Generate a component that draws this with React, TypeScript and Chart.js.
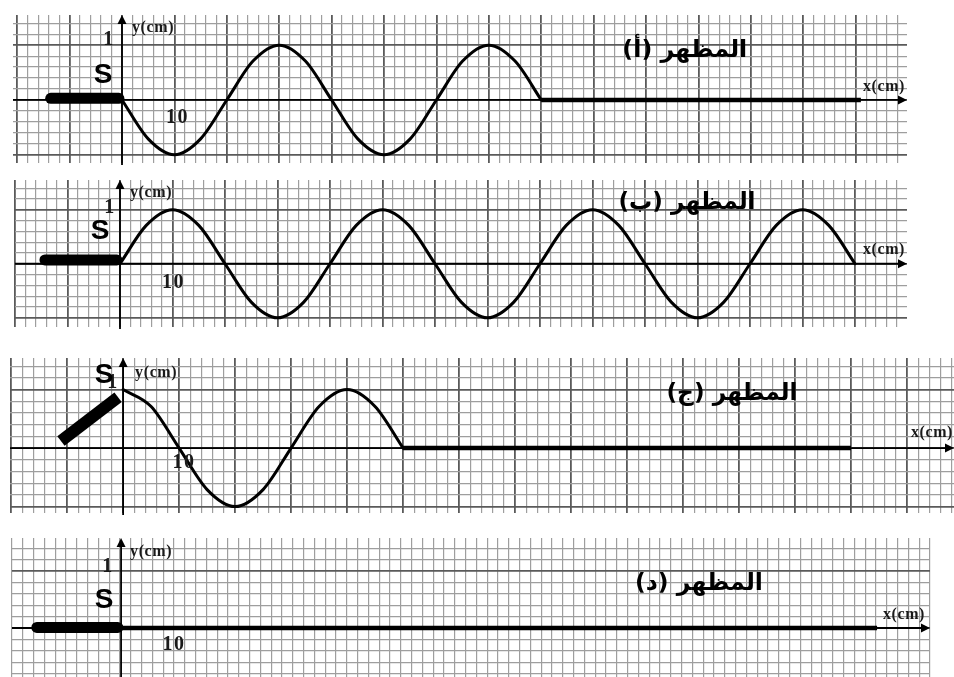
import React, { useEffect, useRef } from "react";
import { Chart, registerables } from "chart.js";

Chart.register(...registerables);

// ---------------- data (cm) ----------------
// Panel (أ): wave leaves S going down, two wavelengths, then rest
const waveAX = [0, 5, 10, 15, 20, 25, 30, 35, 40, 45, 50, 55, 60, 65, 70, 75, 80];
const waveAY = [0, -0.71, -1, -0.71, 0, 0.71, 1, 0.71, 0, -0.71, -1, -0.71, 0, 0.71, 1, 0.71, 0];
const restAX = [80, 141];
const restAY = [0, 0];
const sourceAX = [-13.6, -0.6];
const sourceAY = [0.03, 0.03];

// Panel (ب): wave going up, three and a half wavelengths
const waveBX = [0, 5, 10, 15, 20, 25, 30, 35, 40, 45, 50, 55, 60, 65, 70, 75, 80, 85, 90, 95, 100, 105, 110, 115, 120, 125, 130, 135, 140];
const waveBY = [0, 0.71, 1, 0.71, 0, -0.71, -1, -0.71, 0, 0.71, 1, 0.71, 0, -0.71, -1, -0.71, 0, 0.71, 1, 0.71, 0, -0.71, -1, -0.71, 0, 0.71, 1, 0.71, 0];
const sourceBX = [-14.3, -0.6];
const sourceBY = [0.07, 0.07];

// Panel (ج): source tilted up, wave starts at crest
const waveCX = [0, 5, 10, 15, 20, 25, 30, 35, 40, 45, 50];
const waveCY = [1, 0.71, 0, -0.71, -1, -0.71, 0, 0.71, 1, 0.71, 0];
const restCX = [50, 130];
const restCY = [0, 0];
const sourceCX = [-11.1, -0.9];
const sourceCY = [0.12, 0.87];

// Panel (د): rope at rest
const restDX = [0, 140];
const restDY = [0, 0];
const sourceDX = [-15.6, -0.6];
const sourceDY = [0.01, 0.01];

const titles = ["المظهر (أ)", "المظهر (ب)", "المظهر (ج)", "المظهر (د)"];
const yTickLabel = "1";
const xTickLabel = "10";
const yAxisTitle = "y(cm)";
const xAxisTitle = "x(cm)";
const sourceLabel = "S";

// ---------------- layout ----------------
type Series = { x: number[]; y: number[]; width: number; cap: "round" | "butt" };
type Lab = { dx: number; dy: number };
type PanelCfg = {
  top: number;
  height: number;
  pad: { left: number; right: number; top: number; bottom: number };
  xMin: number;
  xMax: number;
  yMin: number;
  yMax: number;
  series: Series[];
  title: string;
  titleAt: [number, number];
  titleW: number;
  yTitle: Lab;
  one: Lab;
  s: Lab;
  ten: Lab;
  xTitle: Lab;
  sSize: number;
};

const panels: PanelCfg[] = [
  {
    top: 0, height: 170,
    pad: { left: 13, right: 47, top: 15, bottom: 7 },
    xMin: -20.8, xMax: 149.8, yMin: -1.15, yMax: 1.55,
    series: [
      { x: sourceAX, y: sourceAY, width: 11, cap: "round" },
      { x: waveAX, y: waveAY, width: 3, cap: "round" },
      { x: restAX, y: restAY, width: 4.5, cap: "butt" },
    ],
    title: titles[0], titleAt: [107.4, 0.9], titleW: 125,
    yTitle: { dx: 10, dy: 13 }, one: { dx: -13, dy: -5 }, s: { dx: -19, dy: -25 },
    ten: { dx: 2, dy: 18 }, xTitle: { dx: -2, dy: -13 }, sSize: 28,
  },
  {
    top: 170, height: 165,
    pad: { left: 15, right: 47, top: 10, bottom: 8 },
    xMin: -20, xMax: 149.9, yMin: -1.17, yMax: 1.55,
    series: [
      { x: sourceBX, y: sourceBY, width: 11, cap: "round" },
      { x: waveBX, y: waveBY, width: 3, cap: "round" },
    ],
    title: titles[1], titleAt: [108, 1.13], titleW: 137,
    yTitle: { dx: 10, dy: 13 }, one: { dx: -10, dy: -2 }, s: { dx: -20, dy: -32 },
    ten: { dx: 0, dy: 19 }, xTitle: { dx: -2, dy: -14 }, sSize: 28,
  },
  {
    top: 335, height: 185,
    pad: { left: 10, right: 0, top: 23, bottom: 7 },
    xMin: -20.2, xMax: 148.4, yMin: -1.11, yMax: 1.54,
    series: [
      { x: sourceCX, y: sourceCY, width: 12, cap: "butt" },
      { x: waveCX, y: waveCY, width: 3, cap: "round" },
      { x: restCX, y: restCY, width: 4.5, cap: "butt" },
    ],
    title: titles[2], titleAt: [108.75, 0.93], titleW: 131,
    yTitle: { dx: 12, dy: 15 }, one: { dx: -10, dy: -7 }, s: { dx: -19, dy: -73 },
    ten: { dx: 4, dy: 15 }, xTitle: { dx: -1, dy: -15 }, sSize: 28,
  },
  {
    top: 520, height: 157,
    pad: { left: 12, right: 24, top: 18, bottom: 0 },
    xMin: -20.2, xMax: 149.8, yMin: -0.86, yMax: 1.58,
    series: [
      { x: sourceDX, y: sourceDY, width: 11, cap: "round" },
      { x: restDX, y: restDY, width: 4.5, cap: "butt" },
    ],
    title: titles[3], titleAt: [107, 0.78], titleW: 128,
    yTitle: { dx: 9, dy: 14 }, one: { dx: -13, dy: -4 }, s: { dx: -17, dy: -28 },
    ten: { dx: -2, dy: 17 }, xTitle: { dx: -5, dy: -13 }, sSize: 28,
  },
];

const SERIF = '"Liberation Serif", "Times New Roman", serif';
const SANS = '"Liberation Sans", Arial, sans-serif';
const MINOR = "#9e9e9e";
const MAJOR = "#5a5a5a";

function isMajorX(v: number) {
  return Math.abs(v / 10 - Math.round(v / 10)) < 1e-6;
}
function isMajorY(v: number) {
  return Math.abs(v - Math.round(v)) < 1e-6;
}

function overlay(p: PanelCfg) {
  return {
    id: "overlay",
    beforeDatasetsDraw(chart: any) {
      const { ctx, chartArea: a, scales } = chart;
      const x0 = scales.x.getPixelForValue(0);
      const y0 = scales.y.getPixelForValue(0);
      ctx.save();
      ctx.strokeStyle = "#000";
      ctx.fillStyle = "#000";
      ctx.lineWidth = 1.8;
      ctx.beginPath();
      ctx.moveTo(a.left, y0);
      ctx.lineTo(a.right - 5, y0);
      ctx.stroke();
      ctx.beginPath();
      ctx.moveTo(a.right, y0);
      ctx.lineTo(a.right - 9, y0 - 4.5);
      ctx.lineTo(a.right - 9, y0 + 4.5);
      ctx.closePath();
      ctx.fill();
      ctx.beginPath();
      ctx.moveTo(x0, a.bottom + 2);
      ctx.lineTo(x0, a.top + 5);
      ctx.stroke();
      ctx.beginPath();
      ctx.moveTo(x0, a.top);
      ctx.lineTo(x0 - 4.5, a.top + 9);
      ctx.lineTo(x0 + 4.5, a.top + 9);
      ctx.closePath();
      ctx.fill();
      ctx.restore();
    },
    afterDatasetsDraw(chart: any) {
      const { ctx, chartArea: a, scales } = chart;
      const xs = scales.x;
      const ys = scales.y;
      const x0 = xs.getPixelForValue(0);
      const y0 = ys.getPixelForValue(0);
      const y1 = ys.getPixelForValue(1);
      const x10 = xs.getPixelForValue(10);
      ctx.save();
      ctx.fillStyle = "#1a1a1a";
      ctx.textBaseline = "middle";

      ctx.font = `bold 16px ${SERIF}`;
      (ctx as any).letterSpacing = "0.6px";
      ctx.textAlign = "left";
      ctx.fillText(yAxisTitle, x0 + p.yTitle.dx, a.top + p.yTitle.dy);
      ctx.textAlign = "right";
      ctx.fillText(xAxisTitle, a.right + p.xTitle.dx, y0 + p.xTitle.dy);

      ctx.font = `bold 20px ${SERIF}`;
      (ctx as any).letterSpacing = "1.5px";
      ctx.textAlign = "center";
      ctx.fillText(yTickLabel, x0 + p.one.dx, y1 + p.one.dy);
      ctx.fillText(xTickLabel, x10 + p.ten.dx + 1, y0 + p.ten.dy);
      (ctx as any).letterSpacing = "0px";

      ctx.fillStyle = "#000";
      ctx.font = `bold ${p.sSize}px ${SANS}`;
      ctx.fillText(sourceLabel, x0 + p.s.dx, y0 + p.s.dy);

      ctx.direction = "rtl";
      ctx.textAlign = "center";
      const base = 20;
      ctx.font = `bold ${base}px "DejaVu Sans", sans-serif`;
      const w = ctx.measureText(p.title).width || p.titleW;
      const size = Math.min(30, Math.max(14, (base * p.titleW) / w));
      ctx.font = `bold ${size.toFixed(1)}px "DejaVu Sans", sans-serif`;
      ctx.fillText(p.title, xs.getPixelForValue(p.titleAt[0]), ys.getPixelForValue(p.titleAt[1]));
      ctx.restore();
    },
  };
}

function Panel({ p }: { p: PanelCfg }) {
  const ref = useRef<HTMLCanvasElement | null>(null);
  useEffect(() => {
    if (!ref.current) return;
    const chart = new Chart(ref.current, {
      type: "scatter",
      data: {
        datasets: p.series.map((s) => ({
          data: s.x.map((x, i) => ({ x, y: s.y[i] })),
          showLine: true,
          borderColor: "#000",
          backgroundColor: "#000",
          borderWidth: s.width,
          borderCapStyle: s.cap,
          borderJoinStyle: "round",
          pointRadius: 0,
          pointHoverRadius: 0,
          cubicInterpolationMode: "monotone",
          clip: false,
        })) as any,
      },
      options: {
        responsive: false,
        maintainAspectRatio: false,
        animation: false,
        events: [],
        layout: { padding: p.pad },
        plugins: { legend: { display: false }, tooltip: { enabled: false } },
        scales: {
          x: {
            type: "linear",
            min: p.xMin,
            max: p.xMax,
            border: { display: false },
            ticks: { display: false, stepSize: 2, includeBounds: false, autoSkip: false },
            grid: {
              drawTicks: false,
              color: (c: any) => (isMajorX(c.tick.value) ? MAJOR : MINOR),
              lineWidth: (c: any) => (isMajorX(c.tick.value) ? 1.8 : 1.2),
            },
          },
          y: {
            type: "linear",
            min: p.yMin,
            max: p.yMax,
            border: { display: false },
            ticks: { display: false, stepSize: 0.2, includeBounds: false, autoSkip: false },
            grid: {
              drawTicks: false,
              color: (c: any) => (isMajorY(c.tick.value) ? MAJOR : MINOR),
              lineWidth: (c: any) => (isMajorY(c.tick.value) ? 1.8 : 1.2),
            },
          },
        },
      },
      plugins: [overlay(p)],
    });
    return () => chart.destroy();
  }, [p]);
  return (
    <canvas
      ref={ref}
      width={954}
      height={p.height}
      style={{ position: "absolute", left: 0, top: p.top, width: 954, height: p.height, display: "block" }}
    />
  );
}

export default function App() {
  return (
    <div style={{ position: "absolute", left: 0, top: 0, width: 954, height: 677, background: "#fff", overflow: "hidden" }}>
      {panels.map((p, i) => (
        <Panel key={i} p={p} />
      ))}
    </div>
  );
}
